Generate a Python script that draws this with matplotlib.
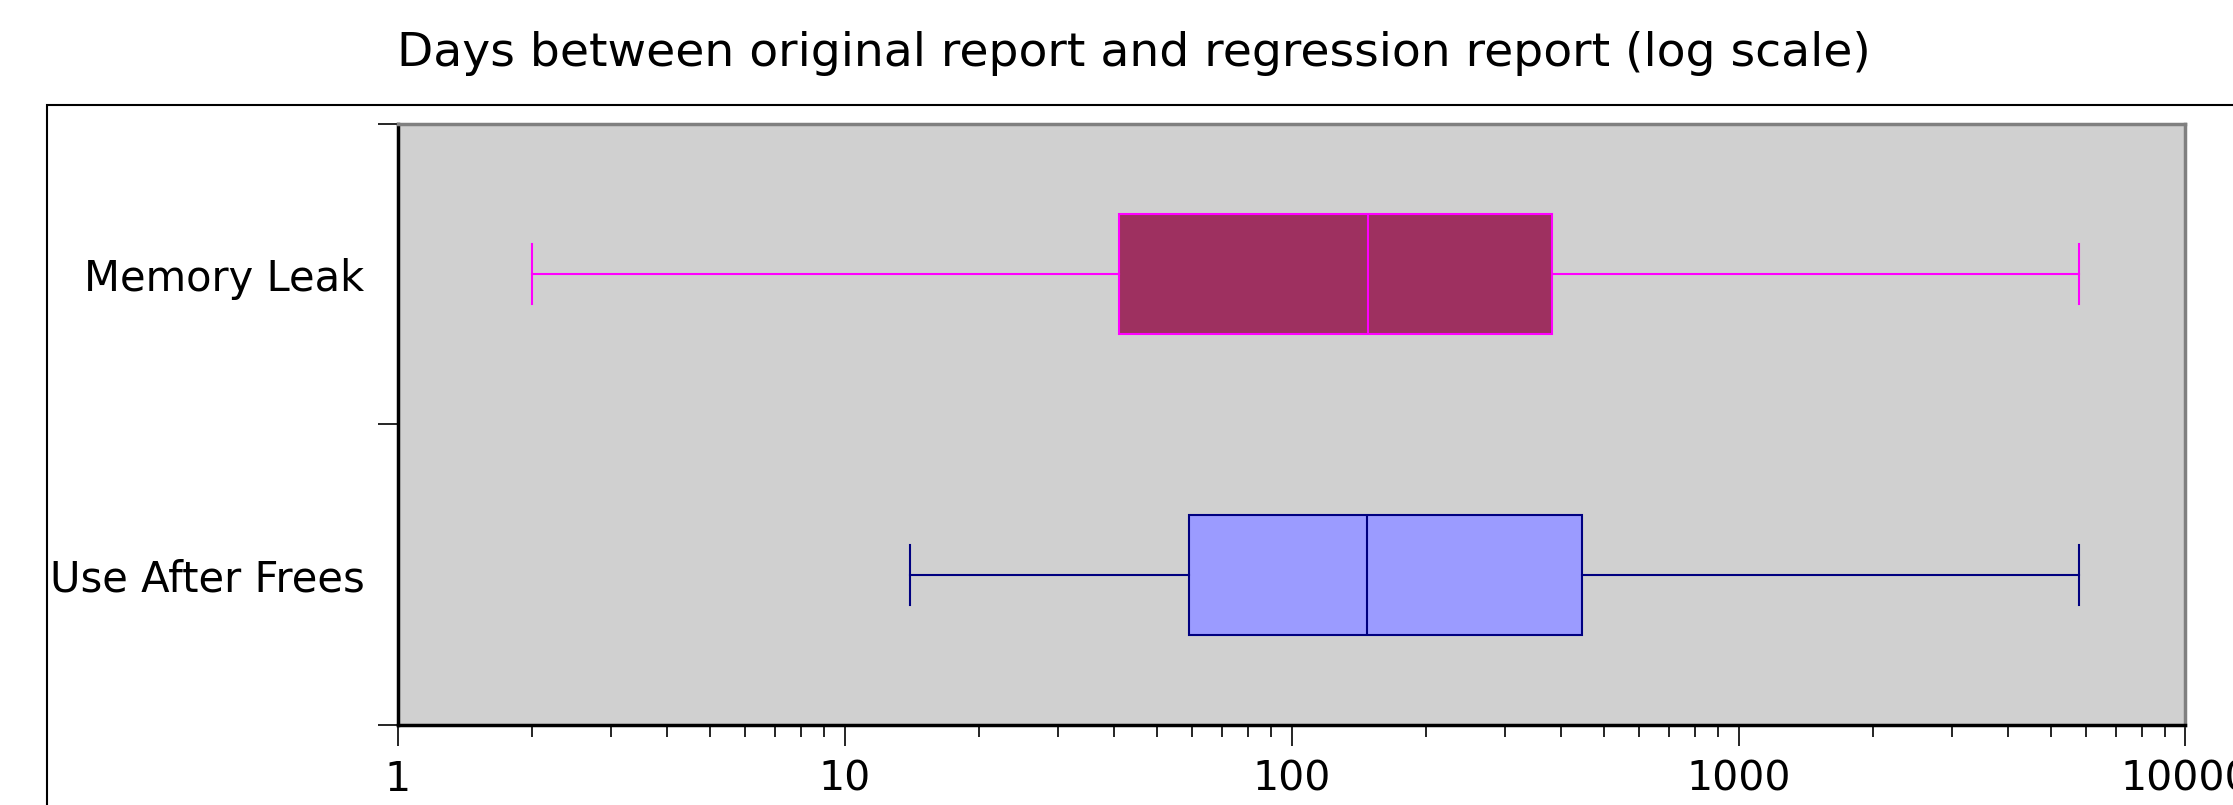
import matplotlib
matplotlib.use("Agg")
import matplotlib.pyplot as plt
from matplotlib.patches import Rectangle
from matplotlib.ticker import FixedLocator, NullFormatter

# data (days)
categories = ['Memory Leak', 'Use After Frees']
whisker_low = [2.0, 14.0]
q1 = [41.0, 59.0]
median = [148.5, 147.3]
q3 = [382.0, 447.0]
whisker_high = [5780.0, 5780.0]

face_colors = ['#9e3060', '#9b9bff']
edge_colors = ['#ff00ff', '#000080']
positions = [1.5, 0.5]

# ~~~~~~~~~~~~~~~~~~~~~~~~~~~~~~~~~~~~~~~~~~~~~~~~~~~~~~~~~~~~~~~~~~~~~~~~~~~~~

fig = plt.figure(figsize=(22.33, 8.05), dpi=100)
ax = fig.add_axes([0.1781, 0.0994, 0.8006, 0.7466])
ax.set_facecolor('#d0d0d0')

# outer frame that runs off the right and bottom of the picture
fig.add_artist(Rectangle((46.7 / 2233, -0.2), 1.2, 1 - 105 / 805 + 0.2,
                         transform=fig.transFigure, fill=False,
                         edgecolor='black', linewidth=1.5, clip_on=False))

stats = []
for i, name in enumerate(categories):
    stats.append({'label': name, 'whislo': whisker_low[i], 'q1': q1[i],
                  'med': median[i], 'q3': q3[i], 'whishi': whisker_high[i],
                  'fliers': []})

bp = ax.bxp(stats, positions=positions, widths=0.4, capwidths=0.2,
            orientation='horizontal', patch_artist=True, showfliers=False,
            manage_ticks=False)

for i in range(len(categories)):
    bp['boxes'][i].set_facecolor(face_colors[i])
    bp['boxes'][i].set_edgecolor(edge_colors[i])
    bp['boxes'][i].set_linewidth(1.5)
    bp['medians'][i].set_color(edge_colors[i])
    bp['medians'][i].set_linewidth(1.5)
    for j in (2 * i, 2 * i + 1):
        bp['whiskers'][j].set_color(edge_colors[i])
        bp['whiskers'][j].set_linewidth(1.5)
        bp['caps'][j].set_color(edge_colors[i])
        bp['caps'][j].set_linewidth(1.5)

ax.set_xscale('log')
ax.set_xlim(1, 10000)
ax.set_ylim(0, 2)

ax.set_xticks([1, 10, 100, 1000, 10000])
ax.set_xticklabels(['1', '10', '100', '1000', '10000'])
ax.xaxis.set_minor_formatter(NullFormatter())
ax.tick_params(axis='x', which='major', length=15, width=1.2, pad=10,
               labelsize=29.5, direction='out')
ax.tick_params(axis='x', which='minor', length=8.5, width=1.2,
               direction='out')

ax.yaxis.set_major_locator(FixedLocator([0, 1, 2]))
ax.yaxis.set_major_formatter(NullFormatter())
ax.yaxis.set_minor_locator(FixedLocator(positions))
ax.set_yticklabels(categories, minor=True)
ax.tick_params(axis='y', which='major', length=14.5, width=1.2,
               direction='out')
ax.tick_params(axis='y', which='minor', length=0, pad=24, labelsize=30)

for side in ('left', 'bottom'):
    ax.spines[side].set_color('black')
    ax.spines[side].set_linewidth(2.5)
for side in ('top', 'right'):
    ax.spines[side].set_color('#808080')
    ax.spines[side].set_linewidth(2.5)

fig.text(0.508, 1 - 53 / 805, 'Days between original report and regression report (log scale)',
         ha='center', va='center', fontsize=34)

fig.savefig('out.png', dpi=100)
